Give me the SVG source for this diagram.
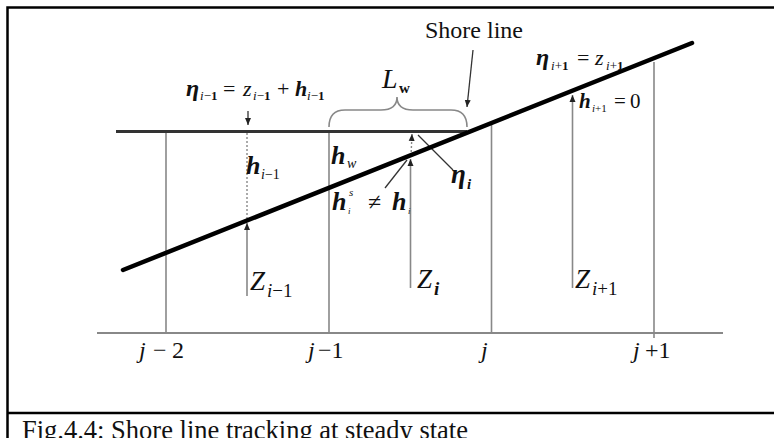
<svg xmlns="http://www.w3.org/2000/svg" width="774" height="438" viewBox="0 0 774 438">
<defs>
<marker id="ah" markerUnits="userSpaceOnUse" markerWidth="8" markerHeight="8" refX="7" refY="4" orient="auto">
<path d="M0,1 L7,4 L0,7 Z" fill="#222"/>
</marker>
<style>
.frame{stroke:#000;stroke-width:2.5;fill:none}
.thin{stroke:#888;stroke-width:1.6;fill:none}
.dot{stroke:#888;stroke-width:1.4;stroke-dasharray:2 2;fill:none}
.t{font-family:"Liberation Serif","Times New Roman",serif;fill:#111}
.it{font-style:italic}
.bi{font-style:italic;font-weight:bold}
.b{font-weight:bold}
</style>
</defs>
<rect width="774" height="438" fill="#fff"/>
<g id="frame">
<path class="frame" d="M7.5,438 V7.5 H774"/>
<path class="frame" d="M7.5,413 H774"/>
</g>
<g id="connectors">
<line x1="97" y1="333" x2="723" y2="333" stroke="#888" stroke-width="2"/>
<line class="thin" x1="166" y1="131" x2="166" y2="333"/>
<line class="thin" x1="329" y1="131" x2="329" y2="333"/>
<line class="thin" x1="491.5" y1="124" x2="491.5" y2="333"/>
<line class="thin" x1="654" y1="62" x2="654" y2="338"/>
<line x1="116" y1="131.5" x2="467" y2="131.5" stroke="#333" stroke-width="3"/>
<line class="dot" x1="247" y1="133" x2="247" y2="220"/>
<line class="thin" x1="247" y1="296" x2="247" y2="223" marker-end="url(#ah)"/>
<line x1="248" y1="111" x2="248" y2="125" stroke="#222" stroke-width="1.2" marker-end="url(#ah)"/>
<line class="thin" x1="410.5" y1="288" x2="410.5" y2="159" marker-end="url(#ah)"/>
<line class="dot" x1="411" y1="156" x2="412" y2="134" marker-end="url(#ah)"/>
<line class="thin" x1="572.5" y1="288" x2="572.5" y2="95" marker-end="url(#ah)"/>
<line x1="473" y1="50" x2="467" y2="107" stroke="#333" stroke-width="1.3" marker-end="url(#ah)"/>
<line x1="453" y1="170" x2="418" y2="135" stroke="#333" stroke-width="1.3"/>
<line x1="385" y1="188" x2="407" y2="160" stroke="#333" stroke-width="1.3"/>
<path class="thin" d="M329,127 Q329,110 345,110 L381,110 Q397,110 397,97 Q397,110 413,110 L451,110 Q467,110 467,127"/>
<line x1="123" y1="270" x2="692" y2="43" stroke="#000" stroke-width="4.5" stroke-linecap="round"/>
</g>
<g id="label-eta-im1">
<text class="t" y="96"><tspan class="bi" x="186" font-size="24">η</tspan><tspan class="it" x="200" y="100" font-size="13">i</tspan><tspan font-size="13">−</tspan><tspan class="b" font-size="13">1</tspan><tspan x="223" y="96" font-size="22">=</tspan><tspan class="it" x="243" font-size="22">z</tspan><tspan class="it" x="253" y="100" font-size="13">i</tspan><tspan font-size="13">−</tspan><tspan class="b" font-size="13">1</tspan><tspan x="277" y="96" font-size="22">+</tspan><tspan class="bi" x="295" font-size="22">h</tspan><tspan class="it" x="307" y="100" font-size="13">i</tspan><tspan font-size="13">−</tspan><tspan class="b" font-size="13">1</tspan></text>
</g>
<g id="label-Lw">
<text class="t" y="88"><tspan class="it" x="382" font-size="28">L</tspan><tspan class="b" x="399" y="93" font-size="15">w</tspan></text>
</g>
<g id="label-shore">
<text class="t" x="425" y="38" font-size="24">Shore line</text>
</g>
<g id="label-eta-ip1">
<text class="t" y="65"><tspan class="bi" x="536" font-size="24">η</tspan><tspan class="it" x="551" y="70" font-size="13">i</tspan><tspan font-size="13">+</tspan><tspan class="b" font-size="13">1</tspan><tspan x="577" y="65" font-size="22">=</tspan><tspan class="it" x="595" font-size="22">z</tspan><tspan class="it" x="606" y="70" font-size="13">i</tspan><tspan font-size="13">+</tspan><tspan class="b" font-size="13">1</tspan></text>
</g>
<g id="label-h-ip1">
<text class="t" y="108"><tspan class="bi" x="579" font-size="21">h</tspan><tspan class="it" x="592" y="112" font-size="11">i</tspan><tspan font-size="11">+</tspan><tspan font-size="11">1</tspan><tspan x="614" y="108" font-size="21">=</tspan><tspan x="630" font-size="21">0</tspan></text>
</g>
<g id="label-hw">
<text class="t" y="164"><tspan class="bi" x="331" font-size="26">h</tspan><tspan class="it" x="347" y="168" font-size="14">w</tspan></text>
</g>
<g id="label-h-im1">
<text class="t" y="174"><tspan class="bi" x="246" font-size="26">h</tspan><tspan class="it" x="261" y="179" font-size="14">i</tspan><tspan font-size="14">−1</tspan></text>
</g>
<g id="label-hs">
<text class="t" y="210"><tspan class="bi" x="332" font-size="26">h</tspan><tspan class="it" x="349" y="196" font-size="11">s</tspan><tspan class="it" x="348" y="214" font-size="9">i</tspan><tspan x="368" y="210" font-size="24">≠</tspan><tspan class="bi" x="392" font-size="26">h</tspan><tspan class="it" x="408" y="214" font-size="9">i</tspan></text>
</g>
<g id="label-eta-i">
<text class="t" y="183"><tspan class="bi" x="451" font-size="27">η</tspan><tspan class="bi" x="467" y="189" font-size="15">i</tspan></text>
</g>
<g id="label-z-im1">
<text class="t" y="290"><tspan class="it" x="250" font-size="27">Z</tspan><tspan class="it" x="267" y="297" font-size="19">i</tspan><tspan font-size="19">−1</tspan></text>
</g>
<g id="label-z-i">
<text class="t" y="288"><tspan class="it" x="417" font-size="27">Z</tspan><tspan class="bi" x="434" y="295" font-size="19">i</tspan></text>
</g>
<g id="label-z-ip1">
<text class="t" y="288"><tspan class="it" x="575" font-size="27">Z</tspan><tspan class="it" x="592" y="295" font-size="19">i</tspan><tspan font-size="19">+1</tspan></text>
</g>
<g id="label-j">
<text class="t" y="358" font-size="24"><tspan class="it" x="139">j</tspan><tspan x="153">−</tspan><tspan x="172">2</tspan></text>
<text class="t" y="358" font-size="24"><tspan class="it" x="308">j</tspan><tspan x="318">−1</tspan></text>
<text class="t it" x="481" y="358" font-size="24">j</text>
<text class="t" y="358" font-size="24"><tspan class="it" x="633">j</tspan><tspan x="645">+1</tspan></text>
</g>
<g id="caption">
<text class="t" x="22" y="439" font-size="26.5">Fig.4.4: Shore line tracking at steady state</text>
</g>
</svg>
